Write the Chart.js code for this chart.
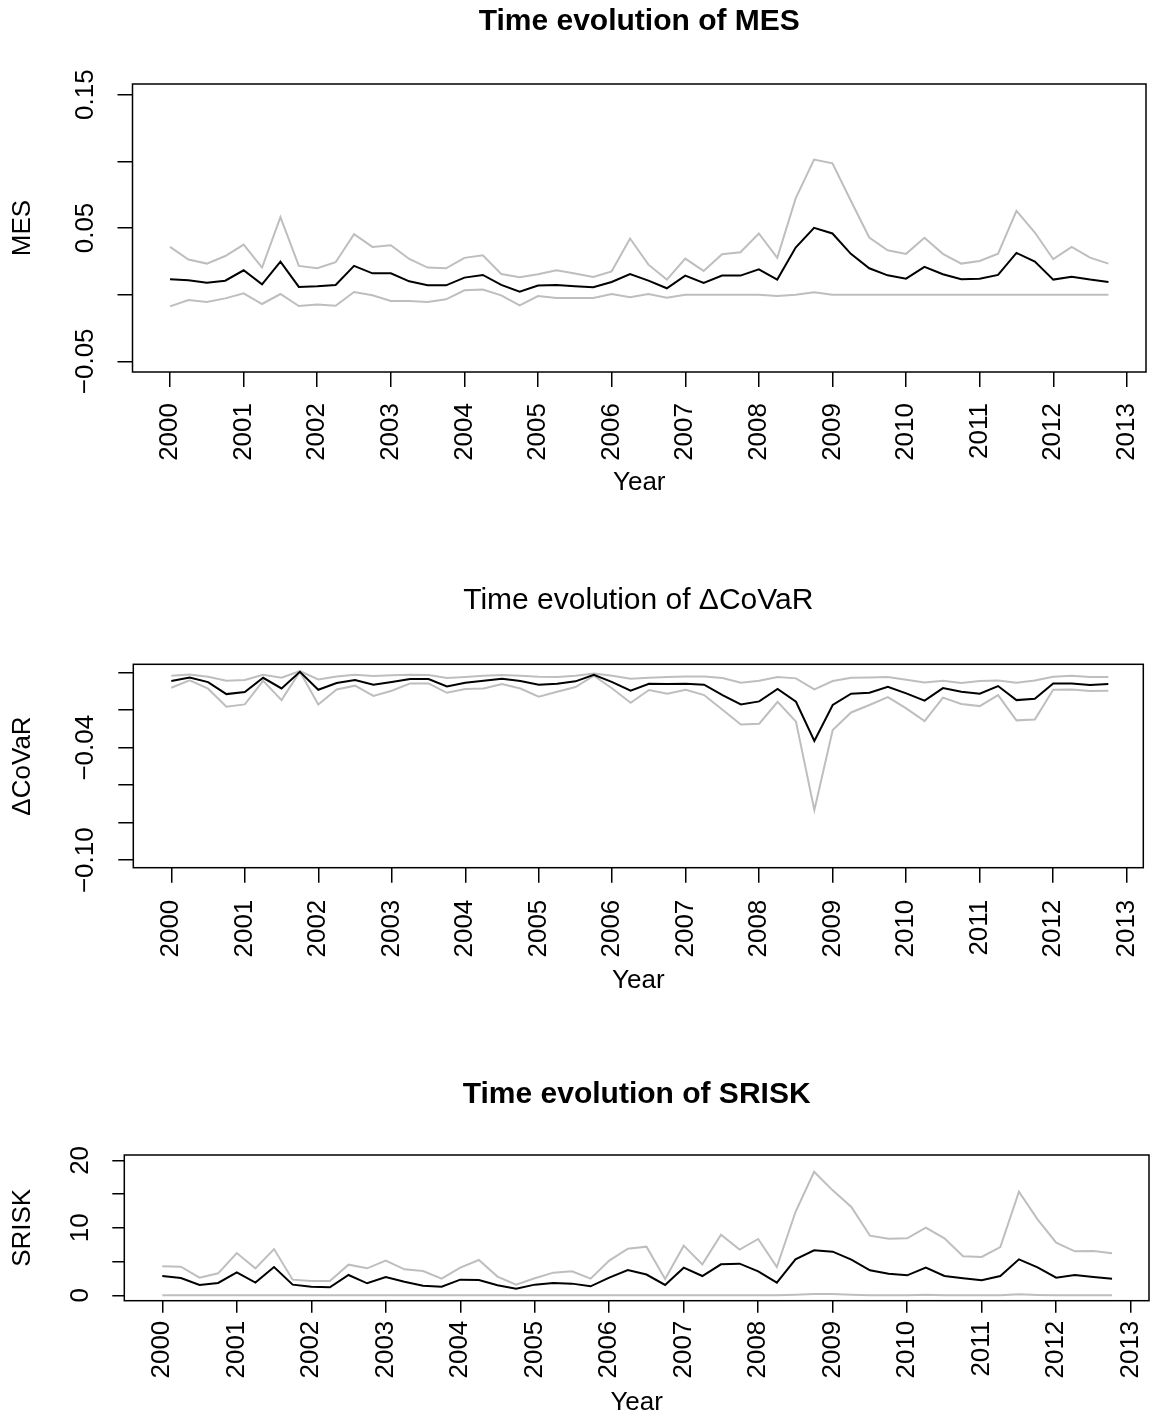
<!DOCTYPE html>
<html>
<head>
<meta charset="utf-8">
<script src="https://cdn.jsdelivr.net/npm/chart.js@4.4.1/dist/chart.umd.min.js"></script>
<style>
html,body{margin:0;padding:0;background:#fff}
#wrap{position:relative;width:1155px;height:1416px;background:#fff}
#wrap canvas{position:absolute;left:0}
</style>
</head>
<body>
<div id="wrap">
  <canvas id="cMes" width="1155" height="560" style="top:0"></canvas>
  <canvas id="cCovar" width="1155" height="480" style="top:560px"></canvas>
  <canvas id="cSrisk" width="1155" height="376" style="top:1040px"></canvas>
</div>
<script>
// quarterly observations 2000Q1 .. 2012Q4
const years=[2000,2001,2002,2003,2004,2005,2006,2007,2008,2009,2010,2011,2012];
const quarterOffsets=[0,0.25,0.5,0.75];
const yearTicks=[2000,2001,2002,2003,2004,2005,2006,2007,2008,2009,2010,2011,2012,2013];
const yearLabels=['2000','2001','2002','2003','2004','2005','2006','2007','2008','2009','2010','2011','2012','2013'];

const mesMean=[0.0115,0.0108,0.009,0.0105,0.0183,0.0078,0.0248,0.0058,0.0063,0.0073,0.0216,0.016,0.016,0.010,0.007,0.007,0.0128,0.0148,0.0073,0.0023,0.0068,0.0073,0.0063,0.0055,0.0095,0.0155,0.0105,
  0.0048,0.0143,0.0088,0.0143,0.0143,0.019,0.0113,0.0353,0.0501,0.0459,0.0306,0.0198,0.0145,0.012,0.0208,0.0153,0.0115,0.012,0.0148,0.0313,0.0248,0.0113,0.0135,0.0113,0.0095];
const mesUpper=[0.0358,0.0263,0.0233,0.029,0.0376,0.0203,0.0581,0.0216,0.0198,0.0243,0.0454,0.0358,0.0371,0.0268,0.0203,0.0198,0.0276,0.0296,0.0155,0.013,0.0153,0.0183,0.0158,0.0133,0.0175,0.0421,0.0225,
  0.0113,0.027,0.0178,0.0303,0.0318,0.0459,0.0276,0.0722,0.1013,0.0985,0.0704,0.0429,0.0333,0.0306,0.0426,0.0306,0.0233,0.0253,0.0308,0.0629,0.0466,0.0266,0.0358,0.0278,0.0233];
const mesLower=[-0.0088,-0.004,-0.0055,-0.0028,0.001,-0.007,0.0005,-0.0085,-0.0073,-0.0083,0.002,-0.0005,-0.0048,-0.0048,-0.0055,-0.0035,0.0033,0.0038,-0.0005,-0.008,-0.001,-0.0025,-0.0025,-0.0025,0.0005,-0.002,0.0005,
  -0.0023,0,0,0,0,0,-0.001,0,0.0018,0,0,0,0,0,0,0,0,0,0,0,0,0,0,0,0];

const covarMean=[-0.0044,-0.0025,-0.005,-0.0114,-0.0103,-0.0027,-0.0084,0.0005,-0.0091,-0.0055,-0.0039,-0.0064,-0.005,-0.0034,-0.0034,-0.0073,-0.0053,-0.0043,-0.0032,-0.0044,-0.0064,-0.0059,-0.0046,-0.0011,-0.005,-0.0096,-0.0059,
  -0.006,-0.0059,-0.0064,-0.0119,-0.0169,-0.0153,-0.0087,-0.0155,-0.0364,-0.0172,-0.0112,-0.0107,-0.0075,-0.011,-0.0149,-0.0082,-0.0101,-0.0112,-0.0071,-0.0146,-0.0139,-0.0057,-0.0057,-0.0066,-0.006];
const covarUpper=[-0.0016,-0.0009,-0.0021,-0.0043,-0.0039,-0.0011,-0.0027,0.0009,-0.0036,-0.002,-0.0011,-0.0018,-0.0014,-0.0011,-0.0012,-0.0028,-0.0023,-0.0016,-0.0012,-0.0016,-0.0021,-0.0023,-0.0016,-0.0004,-0.0016,-0.0032,-0.0027,
  -0.0023,-0.002,-0.002,-0.0028,-0.0053,-0.0043,-0.0023,-0.003,-0.0089,-0.0044,-0.0027,-0.0025,-0.0023,-0.0037,-0.0052,-0.0043,-0.0055,-0.0044,-0.0041,-0.0053,-0.0041,-0.0021,-0.0016,-0.0023,-0.0023];
const covarLower=[-0.008,-0.0041,-0.0085,-0.0181,-0.0169,-0.0043,-0.0146,0.0005,-0.0169,-0.0089,-0.0069,-0.0124,-0.0096,-0.0057,-0.0057,-0.0107,-0.0087,-0.0084,-0.006,-0.0084,-0.0128,-0.0101,-0.0076,-0.0016,-0.0084,-0.016,-0.0092,
  -0.0112,-0.0091,-0.0119,-0.0197,-0.0276,-0.0272,-0.0155,-0.0261,-0.0732,-0.0306,-0.0212,-0.0172,-0.013,-0.019,-0.0258,-0.0133,-0.0167,-0.0178,-0.0119,-0.0254,-0.0249,-0.0091,-0.0089,-0.0098,-0.0096];

const sriskMean=[2.86,2.57,1.53,1.83,3.41,1.88,4.2,1.58,1.28,1.19,3.01,1.78,2.72,2.02,1.43,1.28,2.32,2.27,1.48,0.99,1.58,1.83,1.73,1.33,2.62,3.75,3.08,
  1.53,4.1,2.86,4.59,4.69,3.56,1.88,5.33,6.67,6.47,5.28,3.7,3.21,2.96,4.1,2.86,2.52,2.22,2.86,5.33,4.15,2.62,3.01,2.72,2.47];
const sriskUpper=[4.3,4.25,2.62,3.26,6.27,4.0,6.86,2.32,2.12,2.12,4.54,4.0,5.14,3.85,3.6,2.47,4.1,5.23,2.77,1.58,2.52,3.36,3.56,2.47,5.14,6.91,7.21,
  2.42,7.36,4.59,8.99,6.77,8.35,4.2,12.35,18.32,15.56,13.09,8.84,8.4,8.44,10.02,8.44,5.78,5.68,7.16,15.36,11.26,7.8,6.52,6.57,6.22];
const sriskLower=[0,0,0,0,0,0,0,0,0,0,0,0,0,0,0,0,0,0,0,0,0,0,0,0,0,0,0,
  0,0,0,0,0,0,0,0.1,0.2,0.2,0.1,0,0,0,0.1,0,0,0,0,0.15,0.05,0,0,0,0];

const mesTicks=[-0.05,0,0.05,0.10,0.15];
const mesLabelVals=[-0.05,0.05,0.15];
const mesLabels=['\u22120.05','0.05','0.15'];
const covarTicks=[-0.10,-0.08,-0.06,-0.04,-0.02,0];
const covarLabelVals=[-0.10,-0.04];
const covarLabels=['\u22120.10','\u22120.04'];
const sriskTicks=[0,5,10,15,20];
const sriskLabelVals=[0,10,20];
const sriskLabels=['0','10','20'];

const W=1155;
const FONT='"Liberation Sans", Arial, Helvetica, sans-serif';
const basePx=26,titlePx=30;
const quarters=years.flatMap(y=>quarterOffsets.map(q=>y+q));
const toPts=arr=>arr.map((v,i)=>({x:quarters[i],y:v}));

// R-like frame, rotated tick labels, titles
const rPlot={
  id:'rPlot',
  afterDraw(chart,args,o){
    const {ctx,chartArea:a,scales:{x,y}}=chart;
    ctx.save();
    ctx.strokeStyle='#000';ctx.lineWidth=1.5;
    ctx.strokeRect(a.left,a.top,a.right-a.left,a.bottom-a.top);
    ctx.fillStyle='#000';
    ctx.textAlign='center';ctx.textBaseline='middle';
    ctx.font=`${o.bold?'bold ':''}${titlePx}px ${FONT}`;
    ctx.fillText(o.title,(a.left+a.right)/2,o.titleY);
    ctx.font=`${basePx}px ${FONT}`;
    yearTicks.forEach((v,i)=>{
      ctx.save();ctx.translate(x.getPixelForValue(v),a.bottom+o.xGap);ctx.rotate(-Math.PI/2);
      ctx.textAlign='right';ctx.fillText(yearLabels[i],0,0);ctx.restore();
    });
    o.yVals.forEach((v,i)=>{
      ctx.save();ctx.translate(a.left-o.yGap,y.getPixelForValue(v));ctx.rotate(-Math.PI/2);
      ctx.fillText(o.yTexts[i],0,0);ctx.restore();
    });
    ctx.fillText('Year',(a.left+a.right)/2,a.bottom+o.yearGap);
    ctx.save();ctx.translate(23,(a.top+a.bottom)/2);ctx.rotate(-Math.PI/2);ctx.fillText(o.yTitle,0,0);ctx.restore();
    ctx.restore();
  }
};

function panel(id,box,xr,yr,yTicks,series,plot){
  const cv=document.getElementById(id);
  const H=cv.height;
  const [mean,upper,lower]=series;
  const grid={drawOnChartArea:false,drawTicks:true,tickLength:box.tick,color:'#000',lineWidth:1.5};
  new Chart(cv,{
    type:'line',
    data:{datasets:[
      {data:toPts(mean),borderColor:'#000',borderWidth:2},
      {data:toPts(upper),borderColor:'#bebebe',borderWidth:2},
      {data:toPts(lower),borderColor:'#bebebe',borderWidth:2}
    ]},
    options:{
      responsive:false,animation:false,devicePixelRatio:1,
      layout:{padding:{left:box.l,right:W-box.r,top:box.t,bottom:H-box.b}},
      elements:{point:{radius:0},line:{tension:0}},
      plugins:{legend:{display:false},tooltip:{enabled:false},rPlot:plot},
      scales:{
        x:{type:'linear',min:xr[0],max:xr[1],
          afterBuildTicks:s=>{s.ticks=yearTicks.map(v=>({value:v}));},
          afterFit:s=>{s.height=0;},
          ticks:{display:false},grid,border:{display:false}},
        y:{type:'linear',min:yr[0],max:yr[1],
          afterBuildTicks:s=>{s.ticks=yTicks.map(v=>({value:v}));},
          afterFit:s=>{s.width=0;},
          ticks:{display:false},grid,border:{display:false}}
      }
    },
    plugins:[rPlot]
  });
}

panel('cMes',{l:132.5,r:1146,t:84,b:372,tick:15},[1999.49,2013.26],[-0.058,0.158],mesTicks,
  [mesMean,mesUpper,mesLower],
  {title:'Time evolution of MES',bold:true,titleY:22,yTitle:'MES',yVals:mesLabelVals,yTexts:mesLabels,xGap:31,yGap:46.5,yearGap:111});

panel('cCovar',{l:133.3,r:1143.3,t:104.3,b:307.7,tick:15},[1999.483,2013.226],[-0.104,0.0045],covarTicks,
  [covarMean,covarUpper,covarLower],
  {title:'Time evolution of \u0394CoVaR',bold:false,titleY:41,yTitle:'\u0394CoVaR',yVals:covarLabelVals,yTexts:covarLabels,xGap:32,yGap:47,yearGap:113});

panel('cSrisk',{l:124.3,r:1149,t:115,b:260.7,tick:12},[1999.49,2013.246],[-0.8,20.8],sriskTicks,
  [sriskMean,sriskUpper,sriskLower],
  {title:'Time evolution of SRISK',bold:true,titleY:55,yTitle:'SRISK',yVals:sriskLabelVals,yTexts:sriskLabels,xGap:20,yGap:43,yearGap:102});
</script>
</body>
</html>
